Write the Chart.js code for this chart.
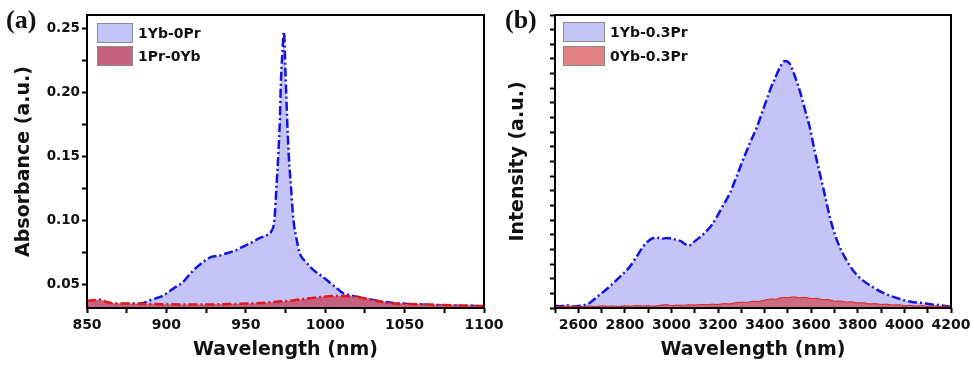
<!DOCTYPE html>
<html>
<head>
<meta charset="utf-8">
<script src="https://cdn.jsdelivr.net/npm/chart.js@4.4.1/dist/chart.umd.min.js"></script>
<style>
  body { margin: 0; background: #fff; width: 974px; height: 365px; overflow: hidden; }
  .panel { position: absolute; top: 0; }
  #wrapA { left: 0; }
  #wrapB { left: 487px; }
</style>
</head>
<body>
<div class="panel" id="wrapA"><canvas id="chartA" width="510" height="365"></canvas></div>
<div class="panel" id="wrapB"><canvas id="chartB" width="487" height="365"></canvas></div>
<script>
/* (a) absorbance */
var ybWl  = [850, 860, 870, 880, 885, 890, 898, 905, 910, 915, 919, 924, 928, 933, 938, 943, 948, 953, 959, 963, 966, 968, 969.5, 970.5, 971.5, 972, 973, 974, 975, 976, 977, 978.5, 980, 982, 984, 988, 992.5, 998, 1003, 1007, 1011, 1015, 1020, 1030, 1040, 1050, 1060, 1070, 1080, 1090, 1100];
var ybAbs = [0.035, 0.035, 0.034, 0.0345, 0.035, 0.0375, 0.041, 0.047, 0.051, 0.058, 0.063, 0.068, 0.071, 0.072, 0.074, 0.076, 0.079, 0.082, 0.086, 0.088, 0.091, 0.100, 0.130, 0.152, 0.180, 0.204, 0.230, 0.247, 0.215, 0.180, 0.152, 0.125, 0.100, 0.085, 0.074, 0.067, 0.061, 0.056, 0.051, 0.047, 0.043, 0.0415, 0.040, 0.0375, 0.0355, 0.0345, 0.034, 0.0335, 0.033, 0.033, 0.0325];
var prWl  = [850, 855, 858, 862, 866, 875, 885, 900, 915, 925, 940, 957, 968, 978, 988, 999, 1009, 1015, 1020, 1030, 1041, 1050, 1062, 1075, 1093, 1100];
var prAbs = [0.0368, 0.0375, 0.0378, 0.036, 0.035, 0.0348, 0.0345, 0.0342, 0.034, 0.034, 0.0343, 0.035, 0.036, 0.037, 0.0385, 0.040, 0.0407, 0.0405, 0.040, 0.0375, 0.035, 0.0345, 0.034, 0.0335, 0.033, 0.0328];
var aXTicks = [850, 875, 900, 925, 950, 975, 1000, 1025, 1050, 1075, 1100];
var aXLabels = [850, 900, 950, 1000, 1050, 1100];
var aYTicks = [0.05, 0.075, 0.10, 0.125, 0.15, 0.175, 0.20, 0.225, 0.25];
var aYLabels = [0.05, 0.10, 0.15, 0.20, 0.25];

/* (b) emission */
var emWl   = [2500, 2525, 2550, 2575, 2600, 2625, 2650, 2679, 2700, 2730, 2764, 2790, 2820, 2850, 2876, 2900, 2919, 2940, 2960, 2980, 3000, 3020, 3040, 3060, 3075, 3090, 3121, 3150, 3175, 3194, 3220, 3250, 3280, 3306, 3335, 3366, 3395, 3422, 3445, 3465, 3487, 3508, 3530, 3551, 3572, 3594, 3615, 3637, 3660, 3680, 3700, 3723, 3750, 3779, 3820, 3865, 3900, 3935, 3968, 4000, 4040, 4079, 4120, 4150, 4182, 4200];
var emYbPr = [0.008, 0.006, 0.009, 0.005, 0.007, 0.010, 0.018, 0.037, 0.050, 0.070, 0.095, 0.115, 0.140, 0.175, 0.207, 0.228, 0.238, 0.240, 0.236, 0.239, 0.237, 0.233, 0.228, 0.217, 0.213, 0.222, 0.241, 0.262, 0.285, 0.310, 0.348, 0.390, 0.450, 0.503, 0.560, 0.616, 0.680, 0.741, 0.785, 0.820, 0.843, 0.833, 0.790, 0.741, 0.680, 0.616, 0.535, 0.459, 0.380, 0.310, 0.255, 0.207, 0.165, 0.129, 0.095, 0.071, 0.055, 0.043, 0.034, 0.026, 0.020, 0.017, 0.012, 0.010, 0.006, 0.005];
var prWl2  = [2500, 2525, 2550, 2575, 2600, 2625, 2650, 2675, 2700, 2725, 2750, 2775, 2800, 2825, 2850, 2875, 2900, 2925, 2950, 2975, 3000, 3025, 3050, 3075, 3100, 3125, 3150, 3175, 3200, 3225, 3250, 3275, 3300, 3325, 3350, 3375, 3400, 3425, 3450, 3475, 3500, 3525, 3550, 3575, 3600, 3625, 3650, 3675, 3700, 3725, 3750, 3775, 3800, 3825, 3850, 3875, 3900, 3925, 3950, 3975, 4000, 4025, 4050, 4075, 4100, 4125, 4150, 4175, 4200];
var emPr   = [0.006, 0.004, 0.007, 0.005, 0.006, 0.004, 0.007, 0.005, 0.008, 0.006, 0.007, 0.005, 0.008, 0.006, 0.009, 0.007, 0.008, 0.006, 0.009, 0.012, 0.008, 0.010, 0.009, 0.011, 0.010, 0.012, 0.011, 0.013, 0.012, 0.015, 0.014, 0.018, 0.020, 0.019, 0.023, 0.022, 0.027, 0.031, 0.030, 0.036, 0.035, 0.038, 0.035, 0.036, 0.032, 0.033, 0.028, 0.029, 0.023, 0.024, 0.020, 0.021, 0.017, 0.018, 0.014, 0.015, 0.012, 0.013, 0.010, 0.011, 0.008, 0.009, 0.007, 0.008, 0.006, 0.007, 0.005, 0.006, 0.005];
var bXTicks = [2500, 2600, 2700, 2800, 2900, 3000, 3100, 3200, 3300, 3400, 3500, 3600, 3700, 3800, 3900, 4000, 4100, 4200];
var bXLabels = [2600, 2800, 3000, 3200, 3400, 3600, 3800, 4000, 4200];
var bYTicks = [0, 0.05, 0.1, 0.15, 0.2, 0.25, 0.3, 0.35, 0.4, 0.45, 0.5, 0.55, 0.6, 0.65, 0.7, 0.75, 0.8, 0.85, 0.9, 0.95, 1];

Chart.defaults.font.family = "'DejaVu Sans', sans-serif";
Chart.defaults.color = '#111';

function pts(xs, ys) {
  return xs.map(function (x, i) { return { x: x, y: ys[i] }; });
}

function hasVal(list, v) {
  return list.some(function (w) { return Math.abs(w - v) < 1e-6; });
}

// frame, legend boxes and panel letter
var decor = {
  id: 'decor',
  afterDatasetsDraw: function (chart, args, opts) {
    var ctx = chart.ctx, a = chart.chartArea;
    ctx.save();
    chart.data.datasets.forEach(function (ds, i) {
      var y = opts.legY + i * opts.legStep;
      ctx.fillStyle = ds.backgroundColor;
      ctx.fillRect(opts.legX, y, opts.boxW, opts.boxH);
      ctx.strokeStyle = '#8a8a8a';
      ctx.lineWidth = 1;
      ctx.strokeRect(opts.legX + 0.5, y + 0.5, opts.boxW - 1, opts.boxH - 1);
      ctx.fillStyle = '#111';
      ctx.font = 'bold 14px "DejaVu Sans"';
      ctx.textBaseline = 'middle';
      ctx.fillText(ds.label, opts.legX + opts.boxW + 5, y + opts.boxH / 2 + 1);
    });
    ctx.strokeStyle = '#000';
    ctx.lineWidth = 2;
    ctx.strokeRect(a.left, a.top, a.right - a.left, a.bottom - a.top);
    ctx.font = 'bold 26px "Liberation Serif"';
    ctx.textBaseline = 'alphabetic';
    ctx.fillText(opts.letter, opts.letterX, 28);
    ctx.restore();
  }
};

function makeAxis(ticksList, labels, fmt, min, max, size, titleText, titlePad, isX) {
  return {
    type: 'linear',
    min: min,
    max: max,
    border: { display: false },
    grid: { drawOnChartArea: false, drawTicks: true, tickLength: 5, tickWidth: 2, tickColor: '#000' },
    afterBuildTicks: function (s) {
      s.ticks = ticksList.map(function (v) { return { value: v }; });
    },
    afterFit: function (s) {
      if (isX) { s.height = size; s.paddingLeft = 0; s.paddingRight = 0; }
      else { s.width = size; s.paddingTop = 0; s.paddingBottom = 0; }
    },
    ticks: {
      autoSkip: false,
      maxRotation: 0,
      padding: isX ? 4 : 2,
      font: { size: isX ? 14 : 13.5, weight: 'bold' },
      callback: function (v) { return hasVal(labels, v) ? fmt(v) : ''; }
    },
    title: {
      display: true,
      text: titleText,
      font: { size: 19, weight: 'bold' },
      padding: titlePad
    }
  };
}

new Chart(document.getElementById('chartA'), {
  type: 'line',
  data: {
    datasets: [{
      label: '1Yb-0Pr',
      data: pts(ybWl, ybAbs),
      borderColor: '#1414e0',
      backgroundColor: '#c4c4f7',
      borderWidth: 2.5,
      borderDash: [9, 3, 2, 3],
      fill: 'start',
      pointRadius: 0,
      cubicInterpolationMode: 'monotone',
      order: 2
    }, {
      label: '1Pr-0Yb',
      data: pts(prWl, prAbs),
      borderColor: '#e41616',
      backgroundColor: '#c6607f',
      borderWidth: 2.5,
      borderDash: [9, 3, 2, 3],
      fill: 'start',
      pointRadius: 0,
      cubicInterpolationMode: 'monotone',
      order: 1
    }]
  },
  options: {
    responsive: false,
    animation: false,
    layout: { padding: { left: 0, right: 26, top: 15, bottom: 0 } },
    plugins: {
      legend: { display: false },
      tooltip: { enabled: false },
      decor: { legX: 97, legY: 23, legStep: 23, boxW: 36, boxH: 20, letter: '(a)', letterX: 6 }
    },
    scales: {
      x: makeAxis(aXTicks, aXLabels, function (v) { return String(v); }, 850, 1100, 57, 'Wavelength (nm)', { top: 0, bottom: 4 }, true),
      y: makeAxis(aYTicks, aYLabels, function (v) { return v.toFixed(2); }, 0.03125, 0.2602, 87, 'Absorbance (a.u.)', { top: 13, bottom: 0 }, false)
    }
  },
  plugins: [decor]
});

new Chart(document.getElementById('chartB'), {
  type: 'line',
  data: {
    datasets: [{
      label: '1Yb-0.3Pr',
      data: pts(emWl, emYbPr),
      borderColor: '#1414e0',
      backgroundColor: '#c4c4f7',
      borderWidth: 2.5,
      borderDash: [9, 3, 2, 3],
      fill: 'start',
      pointRadius: 0,
      cubicInterpolationMode: 'monotone',
      order: 2
    }, {
      label: '0Yb-0.3Pr',
      data: pts(prWl2, emPr),
      borderColor: '#dc2020',
      backgroundColor: 'rgba(210, 60, 65, 0.65)',
      borderWidth: 1,
      fill: 'start',
      pointRadius: 0,
      order: 1
    }]
  },
  options: {
    responsive: false,
    animation: false,
    layout: { padding: { left: 0, right: 23, top: 15, bottom: 0 } },
    plugins: {
      legend: { display: false },
      tooltip: { enabled: false },
      decor: { legX: 76, legY: 22, legStep: 24, boxW: 42, boxH: 20, letter: '(b)', letterX: 18 }
    },
    scales: {
      x: makeAxis(bXTicks, bXLabels, function (v) { return String(v); }, 2500, 4200, 57, 'Wavelength (nm)', { top: 0, bottom: 4 }, true),
      y: makeAxis(bYTicks, [], function (v) { return ''; }, 0, 1, 68, 'Intensity (a.u.)', { top: 20, bottom: 0 }, false)
    }
  },
  plugins: [decor]
});
</script>
</body>
</html>
